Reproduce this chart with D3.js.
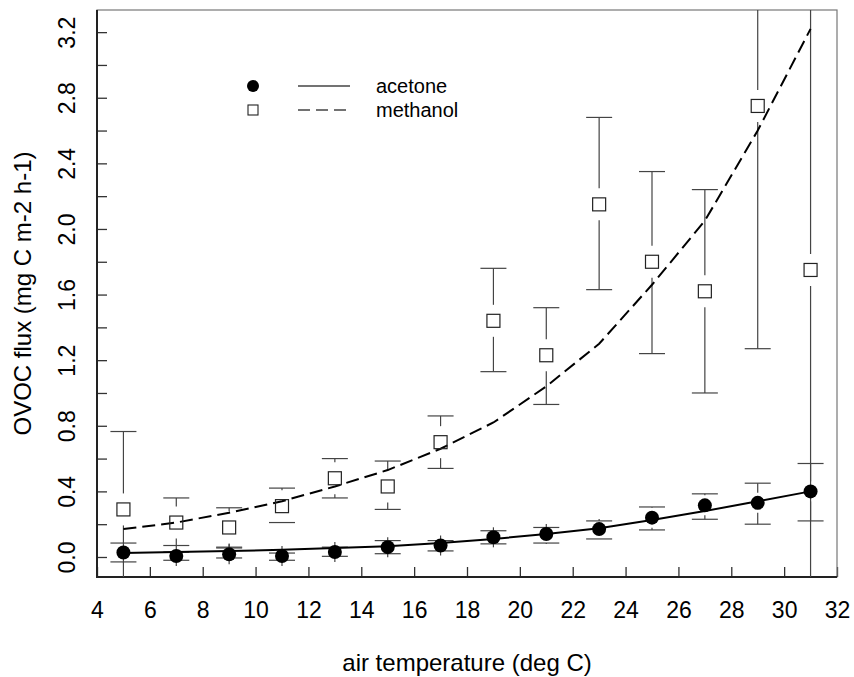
<!DOCTYPE html>
<html>
<head>
<meta charset="utf-8">
<script src="https://cdn.jsdelivr.net/npm/d3@7"></script>
<style>
    body { margin: 0; background: #fff; }
    text { font-family: "Liberation Sans", Arial, sans-serif; fill: #000; }
</style>
</head>
<body>
<svg id="flux_plot" width="854" height="677"></svg>
<script>
// air temperature classes (deg C)
const temps          = [5, 7, 9, 11, 13, 15, 17, 19, 21, 23, 25, 27, 29, 31];

// acetone: mean flux, upper and lower end of the error bars, fitted curve
const acetoneMean    = [0.027, 0.006, 0.016, 0.006, 0.03, 0.06, 0.07, 0.12, 0.14, 0.17, 0.24, 0.315, 0.33, 0.40];
const acetoneUpper   = [0.085, 0.03, 0.055, 0.024, 0.06, 0.10, 0.10, 0.16, 0.18, 0.22, 0.305, 0.385, 0.45, 0.57];
const acetoneLower   = [-0.03, -0.02, -0.006, -0.02, 0.004, 0.02, 0.037, 0.08, 0.085, 0.11, 0.165, 0.23, 0.20, 0.22];
const acetoneFit     = [0.025, 0.03, 0.036, 0.044, 0.055, 0.066, 0.085, 0.11, 0.14, 0.175, 0.225, 0.28, 0.34, 0.40];

// methanol: mean flux, upper and lower end of the error bars, fitted curve
const methanolMean   = [0.29, 0.21, 0.18, 0.31, 0.48, 0.43, 0.70, 1.44, 1.23, 2.15, 1.80, 1.62, 2.75, 1.75];
const methanolUpper  = [0.765, 0.36, 0.30, 0.42, 0.60, 0.585, 0.86, 1.76, 1.52, 2.68, 2.35, 2.24, 4.2, 3.85];
const methanolLower  = [-0.18, 0.07, 0.06, 0.21, 0.36, 0.29, 0.54, 1.13, 0.93, 1.63, 1.24, 1.00, 1.27, -0.35];
const methanolFit    = [0.17, 0.21, 0.27, 0.34, 0.43, 0.53, 0.66, 0.82, 1.04, 1.30, 1.66, 2.05, 2.60, 3.22];

// tick values
const xTicks         = [4, 6, 8, 10, 12, 14, 16, 18, 20, 22, 24, 26, 28, 30, 32];
const yTicks         = [0, 0.2, 0.4, 0.6, 0.8, 1.0, 1.2, 1.4, 1.6, 1.8, 2.0, 2.2, 2.4, 2.6, 2.8, 3.0, 3.2];
const yTickLabels    = [0, 0.4, 0.8, 1.2, 1.6, 2.0, 2.4, 2.8, 3.2];

const legendNames    = ["acetone", "methanol"];

// the following code is used to set up the drawing area
var target_svg    = d3.select("#flux_plot");
var target_width  = +target_svg.attr("width");
var target_height = +target_svg.attr("height");

var margin = { top    : 10,
               bottom : 100,
               left   : 97,
               right  : 17 };

var innerWidth  = target_width  - margin.left - margin.right;
var innerHeight = target_height - margin.top  - margin.bottom;

const chart = target_svg.append("g")
    .attr("transform", `translate(${margin.left},${margin.top})`);

const xScale = d3.scaleLinear()
    .domain([4, 32])
    .range([0, innerWidth]);

const yScale = d3.scaleLinear()
    .domain([-0.122, 3.335])
    .range([innerHeight, 0]);

chart.append("clipPath").attr("id", "plot_clip")
    .append("rect")
    .attr("width",  innerWidth)
    .attr("height", innerHeight);

// here we are rendering the axes (ticks point inwards, R style)
const axisX = d3.axisBottom(xScale)
    .tickValues(xTicks)
    .tickSize(-10)
    .tickFormat(d3.format("d"));

const chartAxisX = chart.append("g")
    .attr("transform", `translate(0,${innerHeight})`)
    .call(axisX);
chartAxisX.selectAll(".domain").remove();
chartAxisX.selectAll("line").attr("stroke", "#333").attr("stroke-width", 1.3);
chartAxisX.selectAll("text")
    .attr("font-size", 23)
    .attr("dy",        0)
    .attr("y",         41);

// y ticks every 0.2, labels only every 0.4
const axisY = d3.axisLeft(yScale)
    .tickValues(yTicks)
    .tickSize(-10)
    .tickFormat(d3.format(".1f"));

const chartAxisY = chart.append("g").call(axisY);
chartAxisY.selectAll(".domain").remove();
chartAxisY.selectAll("line").attr("stroke", "#333").attr("stroke-width", 1.3);
chartAxisY.selectAll("text")
    .filter(d => !yTickLabels.some(v => Math.abs(v - d) < 1e-6))
    .remove();
chartAxisY.selectAll("text")
    .attr("font-size",   23)
    .attr("x",           0)
    .attr("dy",          0)
    .attr("text-anchor", "middle")
    .attr("transform",   "translate(-22,0) rotate(-90)");

// the box around the plot
chart.append("rect")
    .attr("width",  innerWidth)
    .attr("height", innerHeight)
    .attr("fill",   "none")
    .attr("stroke", "#777")
    .attr("stroke-width", 1.2);

chart.append("path")
    .attr("d", `M0,0V${innerHeight}H${innerWidth}`)
    .attr("fill",   "none")
    .attr("stroke", "#222")
    .attr("stroke-width", 2);

// axis titles
target_svg.append("text")
    .attr("x",           margin.left + innerWidth / 2)
    .attr("y",           671)
    .attr("text-anchor", "middle")
    .attr("font-size",   24)
    .text("air temperature (deg C)");

target_svg.append("text")
    .attr("transform",   `translate(31,${margin.top + innerHeight / 2}) rotate(-90)`)
    .attr("text-anchor", "middle")
    .attr("font-size",   24)
    .text("OVOC flux (mg C m-2 h-1)");

// the following code is used to draw error bars, fitted lines and points
const plot = chart.append("g").attr("clip-path", "url(#plot_clip)");

function drawErrorBars(cls, mean, upper, lower, gap)
{
    const rows = temps.map((t, i) => ({ t: t, m: mean[i], u: upper[i], l: lower[i] }));
    const g = plot.append("g").attr("class", cls)
        .attr("stroke", "#444")
        .attr("stroke-width", 1.2);

    g.selectAll(".whisker_up").data(rows).enter().append("line")
        .attr("x1", d => xScale(d.t))
        .attr("x2", d => xScale(d.t))
        .attr("y1", d => yScale(d.m) - gap)
        .attr("y2", d => yScale(d.u));

    g.selectAll(".whisker_down").data(rows).enter().append("line")
        .attr("x1", d => xScale(d.t))
        .attr("x2", d => xScale(d.t))
        .attr("y1", d => yScale(d.m) + gap)
        .attr("y2", d => yScale(d.l));

    g.selectAll(".cap_up").data(rows).enter().append("line")
        .attr("x1", d => xScale(d.t) - 13)
        .attr("x2", d => xScale(d.t) + 13)
        .attr("y1", d => yScale(d.u))
        .attr("y2", d => yScale(d.u));

    g.selectAll(".cap_down").data(rows).enter().append("line")
        .attr("x1", d => xScale(d.t) - 13)
        .attr("x2", d => xScale(d.t) + 13)
        .attr("y1", d => yScale(d.l))
        .attr("y2", d => yScale(d.l));
}

drawErrorBars("methanol_bars", methanolMean, methanolUpper, methanolLower, 16);
drawErrorBars("acetone_bars",  acetoneMean,  acetoneUpper,  acetoneLower,  10);

const fitLine = d3.line()
    .x((d, i) => xScale(temps[i]))
    .y(d => yScale(d));

plot.append("path")
    .datum(methanolFit)
    .attr("d",                fitLine)
    .attr("fill",             "none")
    .attr("stroke",           "#000")
    .attr("stroke-width",     2)
    .attr("stroke-dasharray", "13,6");

plot.append("path")
    .datum(acetoneFit)
    .attr("d",            fitLine)
    .attr("fill",         "none")
    .attr("stroke",       "#000")
    .attr("stroke-width", 2);

plot.selectAll(".methanol_pt").data(methanolMean).enter().append("rect")
    .attr("class",  "methanol_pt")
    .attr("x",      (d, i) => xScale(temps[i]) - 6.5)
    .attr("y",      d => yScale(d) - 6.5)
    .attr("width",  13)
    .attr("height", 13)
    .attr("fill",   "none")
    .attr("stroke", "#222")
    .attr("stroke-width", 1.2);

plot.selectAll(".acetone_pt").data(acetoneMean).enter().append("circle")
    .attr("class", "acetone_pt")
    .attr("cx",    (d, i) => xScale(temps[i]))
    .attr("cy",    d => yScale(d))
    .attr("r",     7)
    .attr("fill",  "#000");

// legend
const legend = target_svg.append("g").attr("transform", "translate(253,86)");

legendNames.forEach((name, i) =>
{
    const row = legend.append("g").attr("transform", `translate(0,${i * 24})`);

    if (i === 0)
    {
        row.append("circle").attr("r", 6).attr("fill", "#000");
    }
    else
    {
        row.append("rect")
            .attr("x", -5).attr("y", -5).attr("width", 10).attr("height", 10)
            .attr("fill", "none").attr("stroke", "#222").attr("stroke-width", 1.1);
    }

    row.append("line")
        .attr("x1", 45).attr("x2", 97)
        .attr("stroke", "#444")
        .attr("stroke-width", 1.3)
        .attr("stroke-dasharray", i === 0 ? null : "12,6");

    row.append("text")
        .attr("x",         123)
        .attr("y",         7)
        .attr("font-size", 20)
        .text(name);
});
</script>
</body>
</html>
